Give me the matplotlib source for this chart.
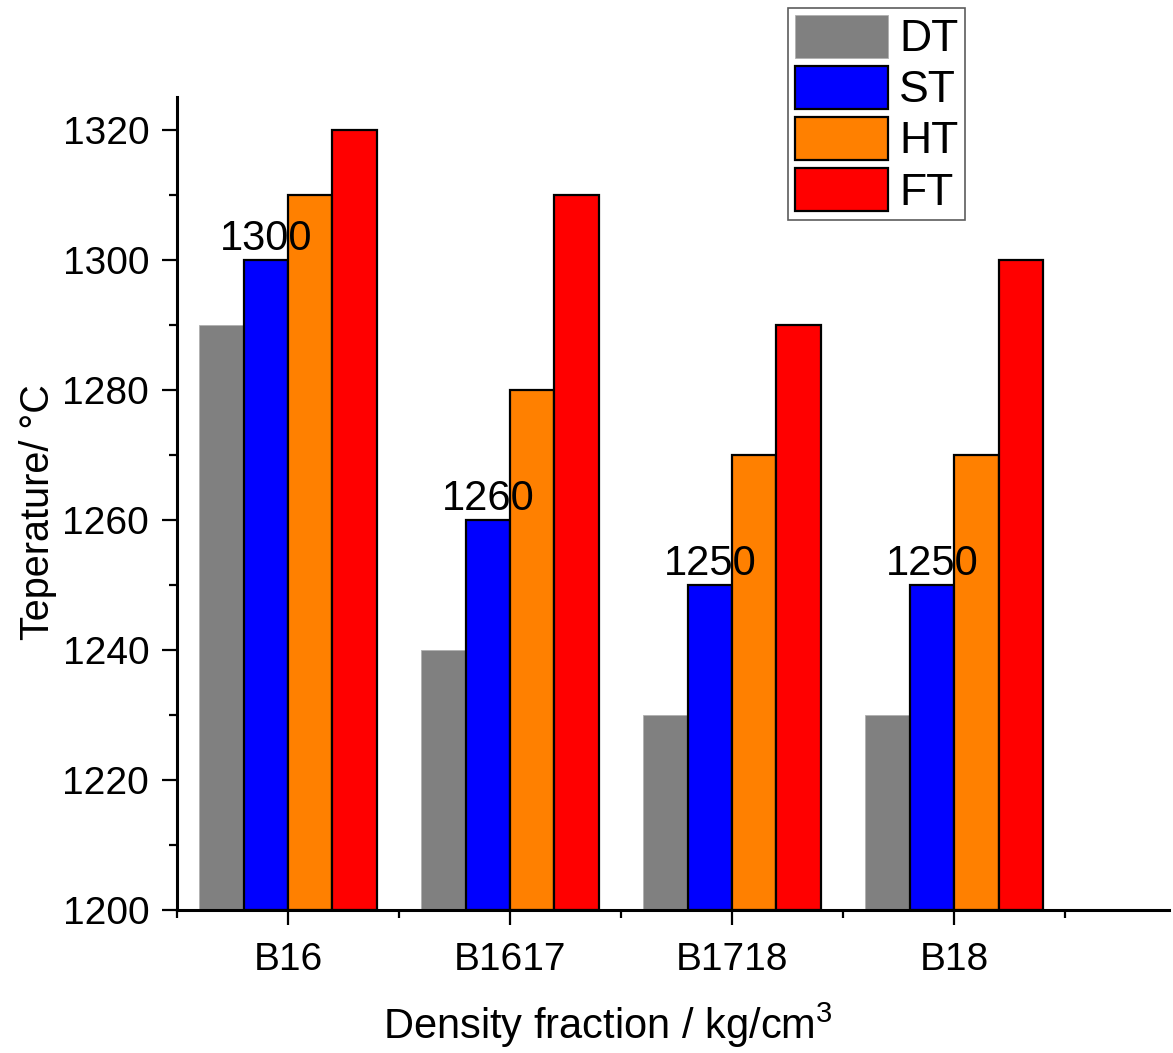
import matplotlib
matplotlib.use("Agg")
import matplotlib.pyplot as plt
import numpy as np

categories = ["B16", "B1617", "B1718", "B18"]
series_names = ["DT", "ST", "HT", "FT"]
DT = [1290, 1240, 1230, 1230]
ST = [1300, 1260, 1250, 1250]
HT = [1310, 1280, 1270, 1270]
FT = [1320, 1310, 1290, 1300]
colors = ["#808080", "#0000FF", "#FF8000", "#FF0000"]

plt.rcParams['font.family'] = ['Liberation Sans', 'DejaVu Sans']
plt.rcParams['mathtext.fontset'] = 'custom'
plt.rcParams['mathtext.rm'] = 'Liberation Sans'
plt.rcParams['mathtext.default'] = 'regular'

fig = plt.figure(figsize=(11.73, 10.53), dpi=100)
ax = fig.add_axes([0.1509, 0.1358, 0.8461, 0.7721])

x = np.arange(1, len(categories) + 1)
width = 0.2
offsets = [-0.3, -0.1, 0.1, 0.3]
all_series = [DT, ST, HT, FT]
for i, (vals, name, c) in enumerate(zip(all_series, series_names, colors)):
    if i == 0:
        ax.bar(x + offsets[i], np.array(vals) - 1200, width, bottom=1200,
               color=c, edgecolor='#b0b0b0', linewidth=0.6, label=name, zorder=2)
    else:
        ax.bar(x + offsets[i], np.array(vals) - 1200, width, bottom=1200,
               color=c, edgecolor='black', linewidth=1.6, label=name, zorder=2)

for xi, v in zip(x + offsets[1], ST):
    ax.annotate(str(v), (xi, v), xytext=(0, 7), textcoords='offset points',
                ha='center', va='baseline', fontsize=30, zorder=3)

ax.set_xlim(0.5, 4.97)
ax.set_ylim(1200, 1325)
ax.set_xticks(x)
ax.set_xticklabels(categories)
ax.set_xticks(np.arange(0.5, 5.0, 1.0), minor=True)
ax.set_yticks(np.arange(1200, 1321, 20))
ax.set_yticks(np.arange(1210, 1321, 20), minor=True)

for s in ['top', 'right']:
    ax.spines[s].set_visible(False)
for s in ['left', 'bottom']:
    ax.spines[s].set_linewidth(2.2)

ax.tick_params(axis='both', which='major', direction='out', length=11, width=1.6,
               labelsize=28, pad=9)
ax.tick_params(axis='both', which='minor', direction='out', length=6, width=1.6)
ax.tick_params(axis='x', which='major', pad=12)

ax.set_xlabel("Density fraction / kg/cm$^{3}$", fontsize=30)
ax.xaxis.set_label_coords(0.434, -0.112)
ax.set_ylabel("Teperature/ \u00b0C", fontsize=28.5)
ax.yaxis.set_label_coords(-0.121, 0.49)

leg = fig.legend(loc='upper left', bbox_to_anchor=(788/1173, 1 - 8/1053),
                 fontsize=32, frameon=True, fancybox=False, edgecolor='#333333',
                 handlelength=2.1, handleheight=1.12, labelspacing=0.12,
                 handletextpad=0.25, borderpad=0.15, borderaxespad=0)
leg.get_frame().set_linewidth(1.2)

fig.savefig("out.png", dpi=100)
